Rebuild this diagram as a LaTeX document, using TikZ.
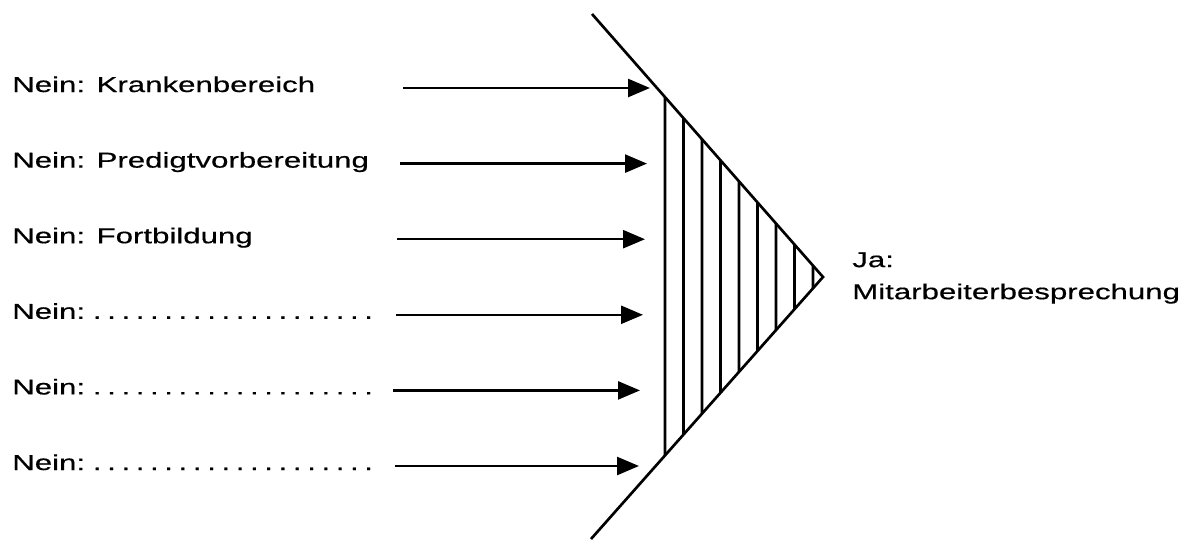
\documentclass[tikz,border=0pt]{standalone}
\usepackage{fontspec}
\newfontfamily\diagfont{Liberation Sans}[FakeStretch=1.45, FakeBold=0.5]
\usetikzlibrary{arrows.meta, calc}

\newcommand{\dotcell}{\hbox to 0.357cm{\hss.\hss}}
\newcommand{\fivedots}{\dotcell\dotcell\dotcell\dotcell\dotcell}
\newcommand{\blankdots}{\hskip 0.125cm\fivedots\fivedots\fivedots\fivedots}

\begin{document}
\begin{tikzpicture}[
    x=0.025cm, y=-0.025cm,
    font=\diagfont\fontsize{15.3}{22.8}\selectfont,
    item/.style={anchor=base west, inner sep=0pt},
    goal/.style={anchor=north west, align=left, inner sep=0pt},
    arr/.style={-{Triangle[length=5.5mm, width=4.5mm]}, line width=1.8pt},
    edge/.style={line width=1.9pt},
    hatch/.style={line width=1.9pt}
]
\useasboundingbox (0,0) rectangle (1200,540);

% funnel
\coordinate (top)  at (592,14);
\coordinate (apex) at (823,277);
\coordinate (bot)  at (591,539);
\draw[edge] (top) -- (apex) -- (bot);

% vertical hatching
\foreach \k in {0,...,8}
  \draw[hatch] ($(top)!{(73+18.5*\k)/231}!(apex)$) -- ($(bot)!{(74+18.5*\k)/232}!(apex)$);

% the six "Nein" items
\foreach [count=\i] \txt/\xs/\xt in {
    {Nein: Krankenbereich}/403/650,
    {Nein: Predigtvorbereitung}/400/647,
    {Nein: Fortbildung}/397/645,
    {Nein:\blankdots}/396/643,
    {Nein:\blankdots}/393/640,
    {Nein:\blankdots}/395/639}{
  \node[item] (no\i) at (12, {92+75.6*(\i-1)}) {\txt};
  \coordinate (from\i) at (\xs, {88+75.6*(\i-1)});
  \coordinate (to\i)   at (\xt, {88+75.6*(\i-1)});
  \draw[arr] (from\i) -- (to\i);
}

% the "Ja" result
\node[goal] (yes) at (852,252) {Ja:\\Mitarbeiterbesprechung};

\end{tikzpicture}
\end{document}
